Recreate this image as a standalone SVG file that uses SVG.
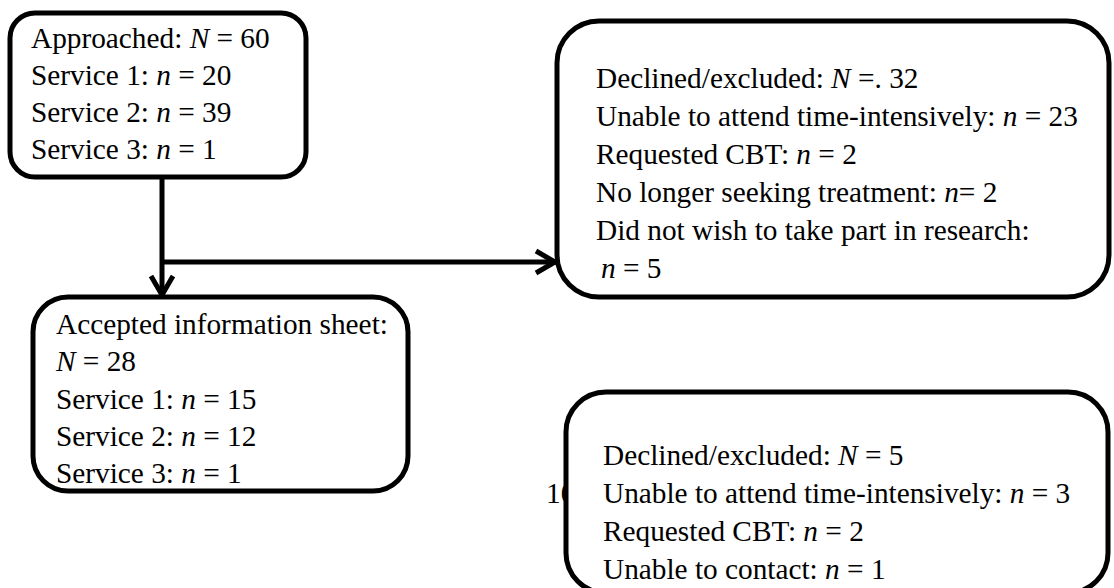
<svg xmlns="http://www.w3.org/2000/svg" width="1114" height="588" viewBox="0 0 1114 588">
  <style>
    .box { fill: #ffffff; stroke: #000000; stroke-width: 5; }
    .t { font-family: "Liberation Serif", "Times New Roman", serif; font-size: 29.3px; fill: #000000; }
    .i { font-style: italic; }
    .conn { fill: none; stroke: #000000; stroke-width: 5; }
  </style>
  <defs>
    <marker id="arrow" markerUnits="userSpaceOnUse" markerWidth="30" markerHeight="30" viewBox="-24 -15 28 30" refX="0" refY="0" orient="auto">
      <path d="M-20,-11 L-1,0 L-20,11" fill="none" stroke="#000000" stroke-width="5" stroke-linejoin="miter"/>
    </marker>
    <clipPath id="pgclip">
      <rect x="530" y="470" width="38" height="60"/>
    </clipPath>
  </defs>

  <g id="connectors">
    <path class="conn" d="M162,177 L162,296" marker-end="url(#arrow)"/>
    <path class="conn" d="M162,262 L556,262" marker-end="url(#arrow)"/>
  </g>

  <g id="approached">
    <rect class="box" x="10" y="13" width="296" height="164" rx="25" ry="25"/>
    <text class="t" x="31" y="48">Approached: <tspan class="i">N</tspan> = 60</text>
    <text class="t" x="31" y="85">Service 1: <tspan class="i">n</tspan> = 20</text>
    <text class="t" x="31" y="122">Service 2: <tspan class="i">n</tspan> = 39</text>
    <text class="t" x="31" y="159">Service 3: <tspan class="i">n</tspan> = 1</text>
  </g>

  <g id="declined1">
    <rect class="box" x="557" y="21" width="552" height="276" rx="42" ry="42"/>
    <text class="t" x="596" y="88">Declined/excluded: <tspan class="i">N</tspan> =. 32</text>
    <text class="t" x="596" y="126">Unable to attend time-intensively: <tspan class="i">n</tspan> = 23</text>
    <text class="t" x="596" y="164">Requested CBT: <tspan class="i">n</tspan> = 2</text>
    <text class="t" x="596" y="202">No longer seeking treatment: <tspan class="i">n</tspan>= 2</text>
    <text class="t" x="596" y="240">Did not wish to take part in research:</text>
    <text class="t" x="601" y="278"><tspan class="i">n</tspan> = 5</text>
  </g>

  <g id="accepted">
    <rect class="box" x="33" y="297" width="375" height="194" rx="35" ry="35"/>
    <text class="t" x="56" y="334">Accepted information sheet:</text>
    <text class="t" x="56" y="371"><tspan class="i">N</tspan> = 28</text>
    <text class="t" x="56" y="409">Service 1: <tspan class="i">n</tspan> = 15</text>
    <text class="t" x="56" y="446">Service 2: <tspan class="i">n</tspan> = 12</text>
    <text class="t" x="56" y="483">Service 3: <tspan class="i">n</tspan> = 1</text>
  </g>

  <g id="declined2">
    <rect class="box" x="566" y="392" width="542" height="201" rx="40" ry="40"/>
    <text class="t" x="603" y="465">Declined/excluded: <tspan class="i">N</tspan> = 5</text>
    <text class="t" x="603" y="503">Unable to attend time-intensively: <tspan class="i">n</tspan> = 3</text>
    <text class="t" x="603" y="541">Requested CBT: <tspan class="i">n</tspan> = 2</text>
    <text class="t" x="603" y="579">Unable to contact: <tspan class="i">n</tspan> = 1</text>
    <text class="t" x="546" y="503" clip-path="url(#pgclip)">10</text>
  </g>
</svg>
